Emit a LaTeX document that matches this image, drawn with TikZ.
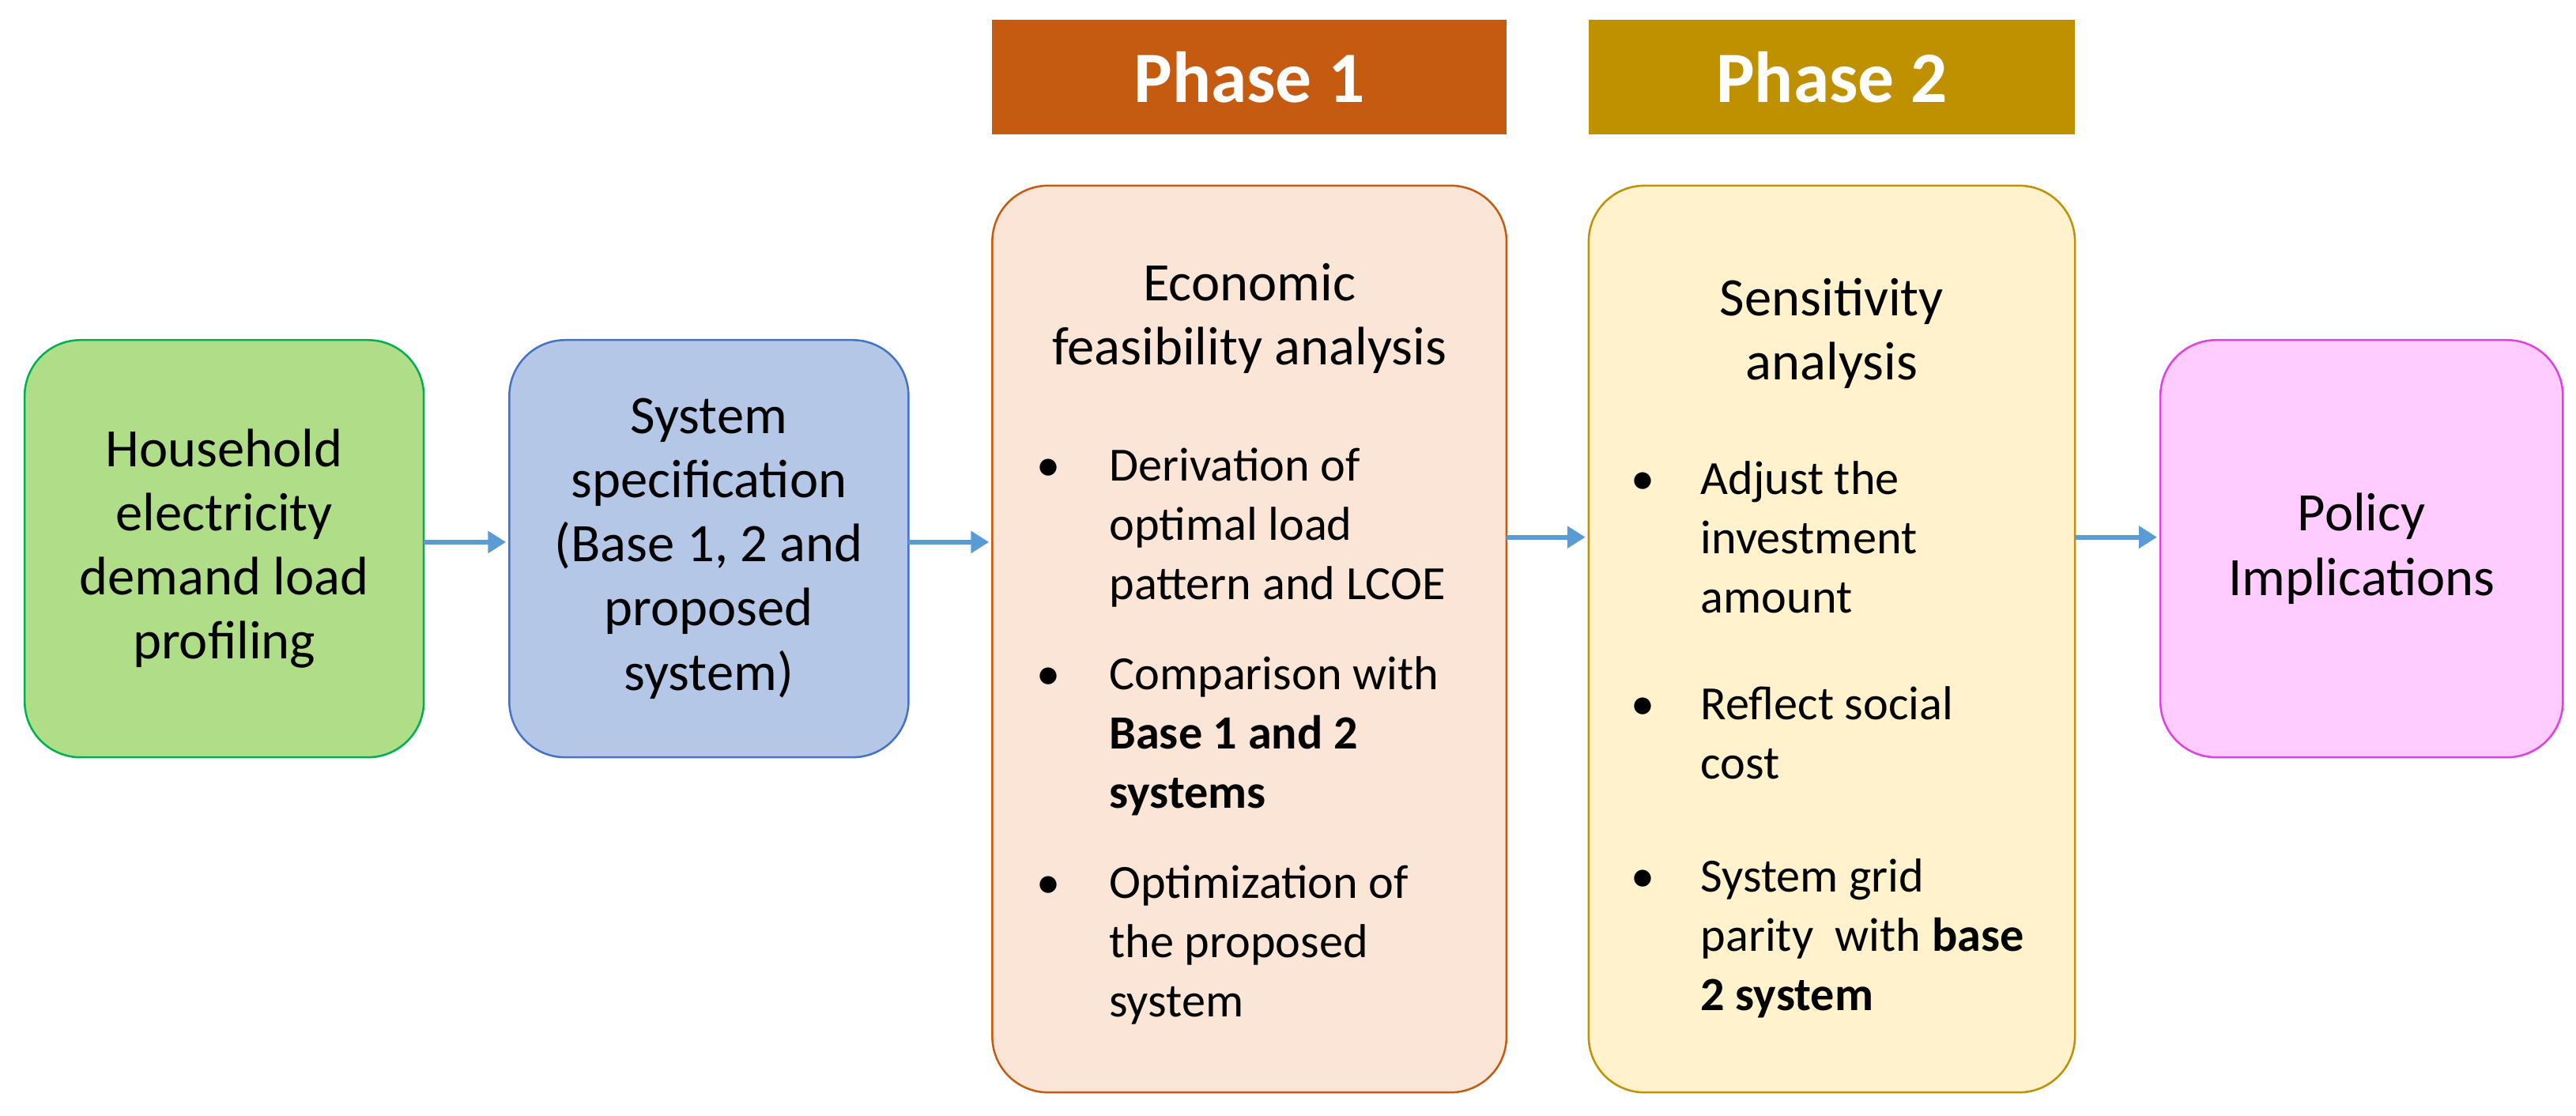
\documentclass[tikz,border=0pt]{standalone}
\usepackage{fontspec}
\setmainfont{Carlito}
\usetikzlibrary{arrows.meta}
\definecolor{gfill}{HTML}{B0DD88}\definecolor{gdraw}{HTML}{00B050}
\definecolor{bfill}{HTML}{B4C7E7}\definecolor{bdraw}{HTML}{4472C4}
\definecolor{ofill}{HTML}{FBE5D6}\definecolor{odraw}{HTML}{C55A11}
\definecolor{yfill}{HTML}{FFF2CC}\definecolor{ydraw}{HTML}{BF9000}
\definecolor{pfill}{HTML}{FFCCFF}\definecolor{pdraw}{HTML}{E040E0}
\definecolor{arr}{HTML}{5B9BD5}
\begin{document}
\begin{tikzpicture}[x=1pt,y=-1pt,
  box/.style={rounded corners=34pt,line width=1.2pt},
  big/.style={font=\fontsize{33}{39}\selectfont,align=center,inner sep=0},
  bul/.style={font=\fontsize{29}{36}\selectfont,align=left,anchor=base west,inner sep=0},
  dot/.style={font=\fontsize{29}{36}\selectfont,anchor=base,inner sep=0},
  hdr/.style={font=\fontsize{44}{50}\bfseries\selectfont,text=white},
  ar/.style={arr,line width=3pt,-{Triangle[length=11pt,width=13pt]}}]
\useasboundingbox (0,0) rectangle (1568,679);
\draw[box,fill=gfill,draw=gdraw] (15,207) rectangle (258,461);
\draw[box,fill=bfill,draw=bdraw] (310,207) rectangle (553,461);
\draw[box,fill=ofill,draw=odraw] (604,113) rectangle (917,665);
\draw[box,fill=yfill,draw=ydraw] (967,113) rectangle (1263,665);
\draw[box,fill=pfill,draw=pdraw] (1315,207) rectangle (1560,461);
\fill[odraw] (604,12) rectangle (917,82);
\fill[ydraw] (967,12) rectangle (1263,82);
\node[hdr] (h1) at (760.5,47) {Phase 1};
\node[hdr] (h2) at (1115,47) {Phase 2};
\node[big] (a) at (136.5,334) {Household\\electricity\\demand load\\profiling};
\node[big] (b) at (431.5,334) {System\\specification\\(Base 1, 2 and\\proposed\\system)};
\node[big,anchor=base] (c) at (760.5,222) {Economic\\feasibility analysis};
\node[big,anchor=base] (d) at (1115,231) {Sensitivity\\analysis};
\node[big] (e) at (1437.5,334) {Policy\\Implications};
\node[dot] at (638,293) {•};\node[bul] (c1) at (675,365) {Derivation of\\optimal load\\pattern and LCOE};
\node[dot] at (638,420) {•};\node[bul] (c2) at (675,492) {Comparison with\\\textbf{Base 1 and 2}\\\textbf{systems}};
\node[dot] at (638,547) {•};\node[bul] (c3) at (675,619) {Optimization of\\the proposed\\system};
\node[dot] at (1000,301) {•};\node[bul] (d1) at (1035,373) {Adjust the\\investment\\amount};
\node[dot] at (1000,438) {•};\node[bul] (d2) at (1035,474) {Reflect social\\cost};
\node[dot] at (1000,543) {•};\node[bul] (d3) at (1035,615) {System grid\\parity\ \ with \textbf{base}\\\textbf{2 system}};
\coordinate (a1) at (258,330);\coordinate (b0) at (308,330);
\coordinate (b1) at (553,330);\coordinate (c0) at (602,330);
\coordinate (o1) at (917,327);\coordinate (y0) at (965,327);
\coordinate (y1) at (1263,327);\coordinate (p0) at (1313,327);
\draw[ar] (a1) -- (b0);\draw[ar] (b1) -- (c0);
\draw[ar] (o1) -- (y0);\draw[ar] (y1) -- (p0);
\end{tikzpicture}
\end{document}
